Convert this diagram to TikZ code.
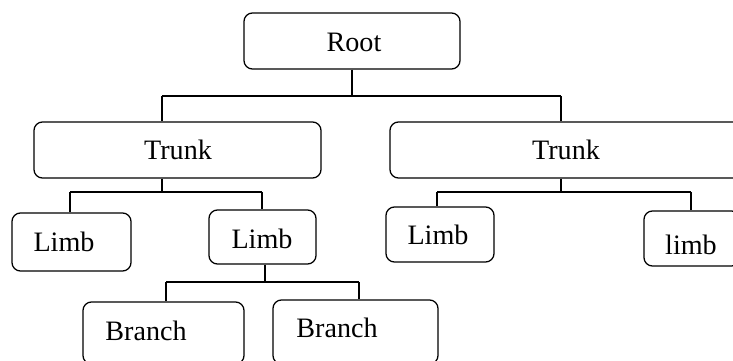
\documentclass[tikz,border=0pt]{standalone}
\usepackage{fontspec}
\setmainfont{Liberation Serif}
\tikzset{
   box/.style={draw, rounded corners=6, line width=0.9pt, inner sep=0pt},
   lbl/.style={inner sep=0pt, font=\fontsize{20}{23}\selectfont},
   conn/.style={line width=0.9pt}
}
\begin{document}
\begin{tikzpicture}[x=0.025cm, y=-0.025cm]
   \useasboundingbox (0,0) rectangle (733,361);
   \def \Boxes {
      root/352/41/216/56/354/42/Root,
      trunkL/177.5/150/287/56/178/150/Trunk,
      trunkR/567.5/150/355/56/566/150/Trunk,
      limbA/71.5/242/119/58/64/242/Limb,
      limbB/262.5/237/107/54/262/239/Limb,
      limbC/440/234.5/108/55/438/235/Limb,
      limbD/692/238.5/96/55/691/245/limb,
      branchA/163.5/333/161/62/146/331/Branch,
      branchB/355.5/332/165/64/337/328/Branch}
   \foreach \n / \x / \y / \w / \h / \tx / \ty / \t in \Boxes {
      \node[box, minimum width=\w*0.025cm, minimum height=\h*0.025cm] (\n) at (\x, \y) {};
      \node[lbl] (\n-t) at (\tx, \ty) {\t};
   }
   % root to trunks
   \coordinate (r1) at (162, 96);
   \coordinate (r2) at (561, 96);
   \draw[conn] (root.south) -- (root.south |- r1);
   \draw[conn] (r1) -- (r2);
   \draw[conn] (r1) -- (r1 |- trunkL.north);
   \draw[conn] (r2) -- (r2 |- trunkR.north);
   % left trunk to limbs
   \coordinate (t0) at (162, 192);
   \coordinate (t1) at (70, 192);
   \coordinate (t2) at (262, 192);
   \draw[conn] (t0 |- trunkL.south) -- (t0);
   \draw[conn] (t1) -- (t2);
   \draw[conn] (t1) -- (t1 |- limbA.north);
   \draw[conn] (t2) -- (t2 |- limbB.north);
   % right trunk to limbs
   \coordinate (s0) at (561, 192);
   \coordinate (s1) at (437, 192);
   \coordinate (s2) at (691, 192);
   \draw[conn] (s0 |- trunkR.south) -- (s0);
   \draw[conn] (s1) -- (s2);
   \draw[conn] (s1) -- (s1 |- limbC.north);
   \draw[conn] (s2) -- (s2 |- limbD.north);
   % limb to branches
   \coordinate (b0) at (265, 282);
   \coordinate (b1) at (166, 282);
   \coordinate (b2) at (359, 282);
   \draw[conn] (b0 |- limbB.south) -- (b0);
   \draw[conn] (b1) -- (b2);
   \draw[conn] (b1) -- (b1 |- branchA.north);
   \draw[conn] (b2) -- (b2 |- branchB.north);
\end{tikzpicture}
\end{document}
